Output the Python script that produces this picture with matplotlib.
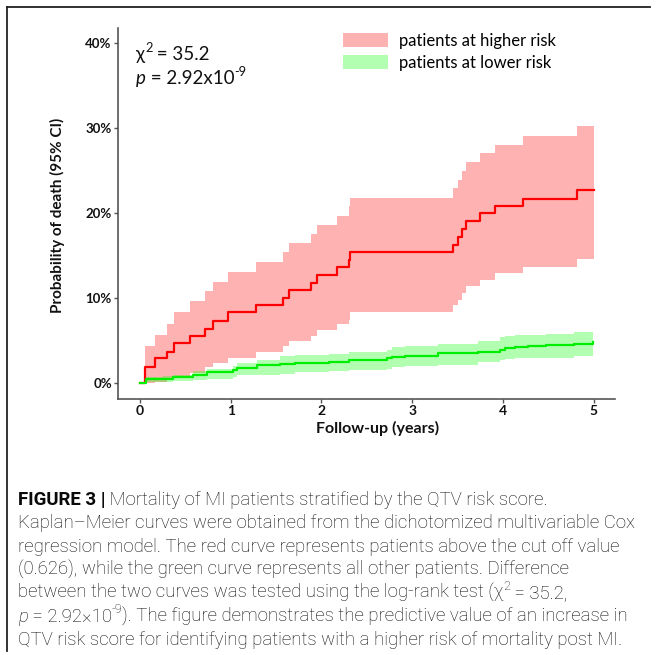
import numpy as np
import matplotlib
matplotlib.use('Agg')
import matplotlib.pyplot as plt
from matplotlib.patches import Patch
from matplotlib.lines import Line2D

# ---- data (years, % death) ----
red_t = [0.00, 0.06, 0.16, 0.30, 0.37, 0.55, 0.72, 0.81, 0.97, 1.28, 1.58, 1.64, 1.89,
         1.95, 2.17, 2.30, 2.32, 3.45, 3.51, 3.55, 3.59, 3.75, 3.91, 4.22, 4.82, 5.00]
red_est = [0.0, 1.9, 2.9, 3.7, 4.7, 5.5, 6.4, 7.3, 8.3, 9.2, 10.0, 10.9, 11.8,
           12.7, 13.6, 14.5, 15.4, 16.2, 17.2, 18.1, 19.0, 20.0, 20.8, 21.7, 22.7, 22.7]
red_hi = [0.0, 4.3, 5.6, 7.0, 8.3, 9.6, 10.8, 11.9, 13.1, 14.2, 15.4, 16.5, 17.5,
          18.6, 19.6, 20.8, 21.8, 22.9, 23.9, 24.9, 26.0, 27.0, 28.0, 29.1, 30.2, 30.2]
red_lo = [0.0, 0.05, 0.1, 0.5, 0.7, 1.2, 1.9, 2.3, 2.9, 3.7, 4.3, 4.9, 5.5,
          6.2, 6.9, 7.4, 8.4, 9.2, 9.8, 10.6, 11.4, 12.1, 12.9, 13.7, 14.6, 14.6]

green_t = [0.00, 0.07, 0.25, 0.36, 0.58, 0.74, 1.03, 1.07, 1.29, 1.54, 1.71, 2.08, 2.30,
           2.72, 2.78, 2.92, 3.29, 3.73, 3.97, 4.02, 4.13, 4.28, 4.48, 4.78, 4.99]
green_est = [0.0, 0.43, 0.5, 0.75, 1.0, 1.25, 1.5, 1.8, 2.1, 2.2, 2.4, 2.5, 2.7,
             2.9, 3.1, 3.2, 3.5, 3.6, 3.9, 4.1, 4.2, 4.3, 4.5, 4.6, 4.8]
green_hi = [0.0, 0.75, 0.8, 1.0, 1.4, 1.6, 2.0, 2.3, 2.7, 3.2, 3.3, 3.4, 3.7,
            3.9, 4.2, 4.3, 4.6, 5.0, 5.4, 5.5, 5.6, 5.7, 5.8, 6.0, 6.0]
green_lo = [0.0, 0.1, 0.15, 0.25, 0.4, 0.5, 0.7, 0.9, 1.0, 1.05, 1.3, 1.4, 1.5,
            1.7, 1.9, 2.0, 2.1, 2.5, 2.7, 2.8, 2.9, 3.0, 3.0, 3.2, 3.2]

x_ticks = [0, 1, 2, 3, 4, 5]
y_ticks = [0, 10, 20, 30, 40]
y_tick_labels = ['0%', '10%', '20%', '30%', '40%']
legend_labels = ['patients at higher risk', 'patients at lower risk']

caption = [
    [('FIGURE 3 |', 'bold'), (' Mortality of MI patients stratified by the QTV risk score.', 'normal')],
    [('Kaplan\u2013Meier curves were obtained from the dichotomized multivariable Cox', 'normal')],
    [('regression model. The red curve represents patients above the cut off value', 'normal')],
    [('(0.626), while the green curve represents all other patients. Difference', 'normal')],
    [('between the two curves was tested using the log-rank test (\u03c7', 'normal'), ('2', 'sup'),
     (' = 35.2,', 'normal')],
    [('p', 'italic'), (' = 2.92\u00d710', 'normal'), ('-9', 'sup'),
     ('). The figure demonstrates the predictive value of an increase in', 'normal')],
    [('QTV risk score for identifying patients with a higher risk of mortality post MI.', 'normal')],
]

W, H = 659, 655
chart_font = ['Lato', 'DejaVu Sans']
cap_font = ['Roboto', 'DejaVu Sans']
plt.rcParams['font.family'] = chart_font

fig = plt.figure(figsize=(W / 100, H / 100), dpi=100)
fig.patch.set_facecolor('white')
renderer = fig.canvas.get_renderer()


def fx(px):
    return px / W


def fy(py):
    return 1 - py / H


def text_width(s, **kw):
    # width including trailing spaces: measure with a bar appended
    t1 = fig.text(0, 0, s + '|', **kw)
    t2 = fig.text(0, 0, '|', **kw)
    w = t1.get_window_extent(renderer).width - t2.get_window_extent(renderer).width
    t1.remove()
    t2.remove()
    return w


def draw_segments(x, y, segs, size, family, color, weight='normal', sup_rise=0.4):
    for s, kind in segs:
        kw = dict(fontsize=size, family=family, color=color, fontweight=weight)
        dy = 0
        if kind == 'bold':
            kw['fontweight'] = 'bold'
        elif kind == 'italic':
            kw['style'] = 'italic'
        elif kind == 'sup':
            kw['fontsize'] = size * 0.68
            dy = size * sup_rise * 100 / 72
        fig.text(fx(x), fy(y - dy), s, va='baseline', ha='left', **kw)
        x += text_width(s, **kw)


# ---- axes ----
ax = fig.add_axes([fx(118), fy(399), fx(615) - fx(118), fy(28) - fy(399)])
ax.set_xlim(-0.2426, 5.237)
ax.set_ylim(-1.88, 41.76)

ax.fill_between(red_t, red_lo, red_hi, step='post', color='#ff0000', alpha=0.3, lw=0)
ax.fill_between(green_t, green_lo, green_hi, step='post', color='#00ff00', alpha=0.3, lw=0)
ax.step(red_t, red_est, where='post', color='#ff0000', lw=1.6)
ax.step(green_t, green_est, where='post', color='#00ee00', lw=1.6)

for sp in ['top', 'right']:
    ax.spines[sp].set_visible(False)
for sp in ['left', 'bottom']:
    ax.spines[sp].set_color('#555555')
    ax.spines[sp].set_linewidth(1.2)

ax.set_xticks(x_ticks)
ax.set_xticklabels([str(v) for v in x_ticks], fontweight='bold', fontsize=10)
ax.set_yticks(y_ticks)
ax.set_yticklabels(y_tick_labels, fontweight='bold', fontsize=9.5)
ax.tick_params(length=3, width=1, color='#555555', pad=1.5, labelcolor='#111111')

fig.text(fx(57), fy(215), 'Probability of death (95% CI)', rotation=90, ha='center', va='center',
         fontweight='bold', fontsize=11, color='#111111')
fig.text(fx(378), fy(428), 'Follow-up (years)', ha='center', va='center',
         fontweight='bold', fontsize=11.5, color='#111111')

# statistics text
draw_segments(136, 60, [('\u03c7', 'normal'), ('2', 'sup'), (' = 35.2', 'normal')], 13.5, chart_font, '#111111')
draw_segments(136, 84, [('p', 'italic'), (' = 2.92x10', 'normal'), ('-9', 'sup')], 13.5, chart_font, '#111111')

# legend
handles = [Patch(facecolor='#ff0000', alpha=0.3, edgecolor='none', label=legend_labels[0]),
           Patch(facecolor='#00ff00', alpha=0.3, edgecolor='none', label=legend_labels[1])]
fs = 12
fs_px = fs * 100 / 72
ax.legend(handles=handles, loc='upper left', bbox_to_anchor=(fx(343), fy(33)),
          bbox_transform=fig.transFigure, frameon=False, borderpad=0, borderaxespad=0,
          fontsize=fs, handlelength=45 / fs_px, handleheight=15 / fs_px,
          handletextpad=11 / fs_px, labelspacing=0.35)

# frame around the figure panel
fig.add_artist(Line2D([fx(7), fx(650)], [fy(7), fy(7)], color='#222222', lw=1.3))
fig.add_artist(Line2D([fx(7), fx(7)], [fy(7), fy(651)], color='#222222', lw=1.3))

# caption: fit font size so the second line spans the measured width
cap_size = 10 * 618 / text_width(caption[1][0][0], fontsize=10, family=cap_font, fontweight='light')
cap_y0 = 505
for i, line in enumerate(caption):
    draw_segments(18, cap_y0 + i * 23.3, line, cap_size, cap_font, '#0a0a0a', weight='light', sup_rise=0.45)

fig.savefig('out.png', dpi=100)
